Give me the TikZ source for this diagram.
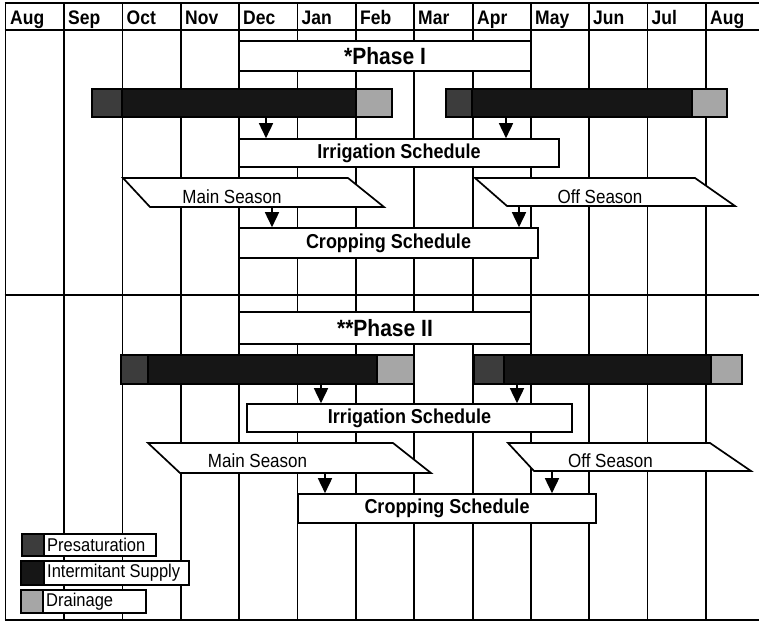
\documentclass[tikz,border=0pt]{standalone}
\usepackage{fontspec}
\setmainfont{Liberation Sans}
\usetikzlibrary{arrows.meta}
\definecolor{presat}{HTML}{3C3C3C}
\definecolor{inter}{HTML}{161616}
\definecolor{drain}{HTML}{A6A6A6}
\newcommand{\tallt}[1]{\scalebox{1}[1.12]{#1}}
\begin{document}
\begin{tikzpicture}[x=1pt,y=-1pt,
  grid/.style={line width=1.7pt},
  box/.style={draw,fill=white,line width=1.6pt,inner sep=0pt},
  seg/.style={draw,line width=1.4pt,inner sep=0pt,minimum height=28},
  arr/.style={line width=1.6pt,-{Triangle[width=14pt,length=15pt]}},
  para/.style={draw,fill=white,line width=1.7pt},
  hdr/.style={font=\fontsize{17.5}{17.5}\selectfont\bfseries,anchor=base west,inner sep=0pt},
  ph/.style={font=\fontsize{21}{21}\selectfont\bfseries},
  sch/.style={font=\fontsize{18}{18}\selectfont\bfseries},
  reg/.style={font=\fontsize{17}{17}\selectfont,anchor=base,inner sep=0pt},
  leg/.style={font=\fontsize{16.5}{16.5}\selectfont,anchor=west,inner sep=0pt},
]
\useasboundingbox (0,0) rectangle (759,621);
\fill[white] (0,0) rectangle (759,621);
% grid
\foreach \x in {5.5,64,122.5,181,239,297.5,356,414,473,531,589,647.5,706}
  \draw[grid] (\x,3) -- (\x,620);
\draw[grid] (4.7,3) -- (759,3);
\draw[line width=2.6pt] (4.7,30) -- (759,30);
\draw[line width=2.6pt] (4.7,295) -- (759,295);
\draw[grid] (4.7,620) -- (759,620);
% header
\node[hdr] (hAug) at (10,24.5) {\tallt{Aug}};
\node[hdr] (hSep) at (68,24.5) {\tallt{Sep}};
\node[hdr] (hOct) at (126.5,24.5) {\tallt{Oct}};
\node[hdr] (hNov) at (185,24.5) {\tallt{Nov}};
\node[hdr] (hDec) at (243,24.5) {\tallt{Dec}};
\node[hdr] (hJan) at (301.5,24.5) {\tallt{Jan}};
\node[hdr] (hFeb) at (360,24.5) {\tallt{Feb}};
\node[hdr] (hMar) at (418,24.5) {\tallt{Mar}};
\node[hdr] (hApr) at (477,24.5) {\tallt{Apr}};
\node[hdr] (hMay) at (535,24.5) {\tallt{May}};
\node[hdr] (hJun) at (593,24.5) {\tallt{Jun}};
\node[hdr] (hJul) at (651.5,24.5) {\tallt{Jul}};
\node[hdr] (hAug2) at (710,24.5) {\tallt{Aug}};

% ---------- Phase I ----------
\node[box,ph,minimum width=292,minimum height=30] (ph1) at (385,56) {\tallt{*Phase I}};
% bars
\node[seg,fill=presat,minimum width=30] (b1p) at (107,103) {};
\node[seg,fill=inter,minimum width=234] (b1i) at (239,103) {};
\node[seg,fill=drain,minimum width=36] (b1d) at (374,103) {};
\node[seg,fill=presat,minimum width=26] (b2p) at (459,103) {};
\node[seg,fill=inter,minimum width=220] (b2i) at (582,103) {};
\node[seg,fill=drain,minimum width=35] (b2d) at (709.5,103) {};
\node[box,sch,minimum width=320,minimum height=28] (irr1) at (399,153) {\tallt{Irrigation Schedule}};
\coordinate (a1) at (266,0);
\coordinate (a2) at (506,0);
\draw[arr] (b1i.south -| a1) -- (irr1.north -| a1);
\draw[arr] (b2i.south -| a2) -- (irr1.north -| a2);
% seasons
\draw[para] (123,178) -- (348,178) -- (384,207) -- (150,207) -- cycle;
\node[reg] (ms1) at (232,203) {\tallt{Main Season}};
\draw[para] (475,178) -- (695,178) -- (735,206) -- (507,206) -- cycle;
\node[reg] (os1) at (600,203) {\tallt{Off Season}};
\coordinate (ms1b) at (272,207);
\coordinate (os1b) at (519,206);
\node[box,sch,minimum width=299,minimum height=30] (crop1) at (388.5,243) {\tallt{Cropping Schedule}};
\draw[arr] (ms1b) -- (crop1.north -| ms1b);
\draw[arr] (os1b) -- (crop1.north -| os1b);

% ---------- Phase II ----------
\node[box,ph,minimum width=292,minimum height=32] (ph2) at (385,328) {\tallt{**Phase II}};
\node[seg,fill=presat,minimum width=27,minimum height=29] (c1p) at (134.5,369.5) {};
\node[seg,fill=inter,minimum width=229,minimum height=29] (c1i) at (262.5,369.5) {};
\node[seg,fill=drain,minimum width=37,minimum height=29] (c1d) at (395.5,369.5) {};
\node[seg,fill=presat,minimum width=30,minimum height=29] (c2p) at (489,369.5) {};
\node[seg,fill=inter,minimum width=207,minimum height=29] (c2i) at (607.5,369.5) {};
\node[seg,fill=drain,minimum width=31,minimum height=29] (c2d) at (726.5,369.5) {};
\node[box,sch,minimum width=325,minimum height=28] (irr2) at (409.5,418) {\tallt{Irrigation Schedule}};
\coordinate (a3) at (321,0);
\coordinate (a4) at (517,0);
\draw[arr] (c1i.south -| a3) -- (irr2.north -| a3);
\draw[arr] (c2i.south -| a4) -- (irr2.north -| a4);
\draw[para] (148,443) -- (393,443) -- (431,473) -- (180,473) -- cycle;
\node[reg] (ms2) at (257.5,467) {\tallt{Main Season}};
\draw[para] (508,443) -- (710,443) -- (751,471) -- (534,471) -- cycle;
\node[reg] (os2) at (610.5,467) {\tallt{Off Season}};
\coordinate (ms2b) at (325,473);
\coordinate (os2b) at (552,471);
\node[box,sch,minimum width=298,minimum height=29] (crop2) at (447,508.5) {\tallt{Cropping Schedule}};
\draw[arr] (ms2b) -- (crop2.north -| ms2b);
\draw[arr] (os2b) -- (crop2.north -| os2b);

% ---------- Legend ----------
\draw[box] (44,534) rectangle (156,556);
\draw[seg,fill=presat] (22,534) rectangle (44,556);
\node[leg] (lp) at (47,545) {\tallt{Presaturation}};
\draw[box] (44,561) rectangle (189,585);
\draw[seg,fill=inter] (21,561) rectangle (44,585);
\node[leg] (li) at (47,573) {\tallt{Intermitant Supply}};
\draw[box] (43,590) rectangle (146,613);
\draw[seg,fill=drain] (21,590) rectangle (43,613);
\node[leg] (ld) at (46,601.5) {\tallt{Drainage}};
\end{tikzpicture}
\end{document}
